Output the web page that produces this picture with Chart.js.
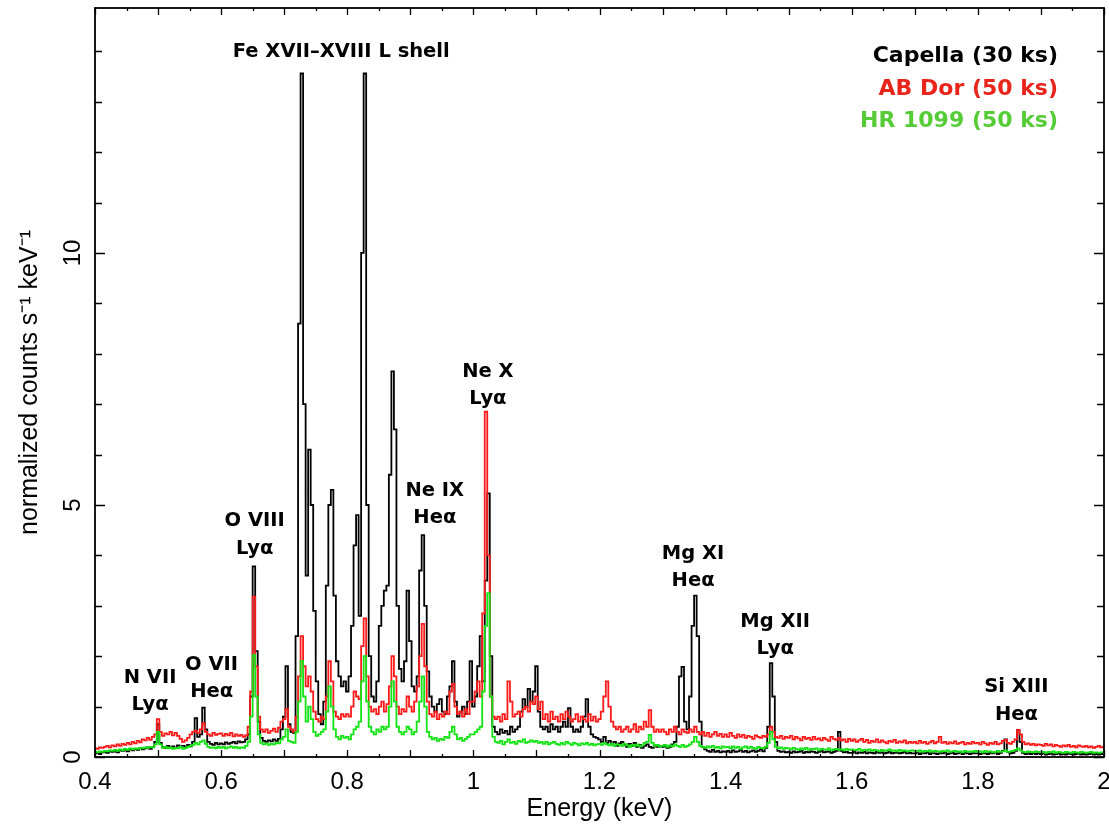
<!DOCTYPE html>
<html>
<head>
<meta charset="utf-8">
<title>X-ray spectra: Capella, AB Dor, HR 1099</title>
<script src="https://cdn.jsdelivr.net/npm/chart.js@4.4.1/dist/chart.umd.min.js"></script>
<style>
  html, body { margin: 0; padding: 0; background: #ffffff; }
  canvas { display: block; }
</style>
</head>
<body>
<canvas id="spectrum" width="1109" height="826"></canvas>
<script>
// Channel energies (keV), one row per 0.1 keV
const energyKeV = [
  0.400,0.404,0.408,0.412,0.416,0.420,0.424,0.428,0.432,0.436,0.440,0.444,0.448,0.452,0.456,0.460,0.464,0.468,0.472,0.476,0.480,0.484,0.488,0.492,0.496,
  0.500,0.504,0.508,0.512,0.516,0.520,0.524,0.528,0.532,0.536,0.540,0.544,0.548,0.552,0.556,0.560,0.564,0.568,0.572,0.576,0.580,0.584,0.588,0.592,0.596,
  0.600,0.604,0.608,0.612,0.616,0.620,0.624,0.628,0.632,0.636,0.640,0.644,0.648,0.652,0.656,0.660,0.664,0.668,0.672,0.676,0.680,0.684,0.688,0.692,0.696,
  0.700,0.704,0.708,0.712,0.716,0.720,0.724,0.728,0.732,0.736,0.740,0.744,0.748,0.752,0.756,0.760,0.764,0.768,0.772,0.776,0.780,0.784,0.788,0.792,0.796,
  0.800,0.804,0.808,0.812,0.816,0.820,0.824,0.828,0.832,0.836,0.840,0.844,0.848,0.852,0.856,0.860,0.864,0.868,0.872,0.876,0.880,0.884,0.888,0.892,0.896,
  0.900,0.904,0.908,0.912,0.916,0.920,0.924,0.928,0.932,0.936,0.940,0.944,0.948,0.952,0.956,0.960,0.964,0.968,0.972,0.976,0.980,0.984,0.988,0.992,0.996,
  1.000,1.004,1.008,1.012,1.016,1.020,1.024,1.028,1.032,1.036,1.040,1.044,1.048,1.052,1.056,1.060,1.064,1.068,1.072,1.076,1.080,1.084,1.088,1.092,1.096,
  1.100,1.104,1.108,1.112,1.116,1.120,1.124,1.128,1.132,1.136,1.140,1.144,1.148,1.152,1.156,1.160,1.164,1.168,1.172,1.176,1.180,1.184,1.188,1.192,1.196,
  1.200,1.204,1.208,1.212,1.216,1.220,1.224,1.228,1.232,1.236,1.240,1.244,1.248,1.252,1.256,1.260,1.264,1.268,1.272,1.276,1.280,1.284,1.288,1.292,1.296,
  1.300,1.304,1.308,1.312,1.316,1.320,1.324,1.328,1.332,1.336,1.340,1.344,1.348,1.352,1.356,1.360,1.364,1.368,1.372,1.376,1.380,1.384,1.388,1.392,1.396,
  1.400,1.404,1.408,1.412,1.416,1.420,1.424,1.428,1.432,1.436,1.440,1.444,1.448,1.452,1.456,1.460,1.464,1.468,1.472,1.476,1.480,1.484,1.488,1.492,1.496,
  1.500,1.504,1.508,1.512,1.516,1.520,1.524,1.528,1.532,1.536,1.540,1.544,1.548,1.552,1.556,1.560,1.564,1.568,1.572,1.576,1.580,1.584,1.588,1.592,1.596,
  1.600,1.604,1.608,1.612,1.616,1.620,1.624,1.628,1.632,1.636,1.640,1.644,1.648,1.652,1.656,1.660,1.664,1.668,1.672,1.676,1.680,1.684,1.688,1.692,1.696,
  1.700,1.704,1.708,1.712,1.716,1.720,1.724,1.728,1.732,1.736,1.740,1.744,1.748,1.752,1.756,1.760,1.764,1.768,1.772,1.776,1.780,1.784,1.788,1.792,1.796,
  1.800,1.804,1.808,1.812,1.816,1.820,1.824,1.828,1.832,1.836,1.840,1.844,1.848,1.852,1.856,1.860,1.864,1.868,1.872,1.876,1.880,1.884,1.888,1.892,1.896,
  1.900,1.904,1.908,1.912,1.916,1.920,1.924,1.928,1.932,1.936,1.940,1.944,1.948,1.952,1.956,1.960,1.964,1.968,1.972,1.976,1.980,1.984,1.988,1.992,1.996,
  2.000
];

// Capella (30 ks), normalized counts s^-1 keV^-1
const capella = [
  0.07,0.08,0.06,0.09,0.10,0.08,0.11,0.10,0.12,0.09,0.13,0.12,0.14,0.11,0.15,0.13,0.16,0.14,0.18,0.15,0.17,0.19,0.16,0.20,0.30,
  0.65,0.28,0.20,0.18,0.22,0.19,0.21,0.18,0.23,0.20,0.22,0.19,0.24,0.21,0.30,0.77,0.40,0.45,0.98,0.55,0.30,0.26,0.24,0.28,0.25,
  0.27,0.25,0.29,0.26,0.28,0.30,0.27,0.31,0.29,0.30,0.35,0.45,1.20,3.78,2.10,0.70,0.38,0.32,0.30,0.33,0.31,0.35,0.32,0.36,0.55,
  0.80,1.80,0.65,0.50,0.48,2.40,8.60,13.56,7.00,3.60,6.10,5.00,2.90,1.50,0.85,0.65,1.10,3.40,5.00,5.30,3.20,1.90,1.60,1.40,1.50,
  1.30,1.60,2.60,4.20,4.80,2.80,10.00,13.56,5.00,2.00,1.20,1.10,1.50,2.60,3.00,3.30,3.40,5.60,7.65,6.50,3.00,1.75,1.50,1.90,3.30,
  2.30,1.40,1.30,1.60,3.70,4.40,3.00,1.70,1.20,1.00,0.90,1.05,1.15,0.90,0.85,1.20,1.40,1.90,1.10,0.80,0.90,1.00,0.85,1.10,1.90,
  1.00,1.20,1.80,2.40,1.50,3.50,5.23,2.00,0.60,0.50,0.45,0.55,0.48,0.52,0.45,0.60,0.50,0.55,0.60,0.90,1.15,1.00,1.35,1.10,1.30,
  1.80,0.90,0.60,0.55,0.60,0.50,0.65,0.55,0.60,0.50,0.60,0.70,0.60,0.97,0.60,0.50,0.55,0.50,0.60,0.80,1.15,0.60,0.45,0.40,0.38,
  0.35,0.30,0.40,0.28,0.32,0.25,0.30,0.22,0.27,0.30,0.24,0.20,0.26,0.22,0.28,0.20,0.24,0.18,0.22,0.25,0.20,0.18,0.23,0.20,0.22,
  0.20,0.22,0.18,0.20,0.25,0.30,0.60,1.60,1.79,0.70,0.55,1.20,2.60,3.20,2.40,0.70,0.20,0.15,0.12,0.10,0.14,0.10,0.12,0.09,0.11,
  0.10,0.12,0.09,0.13,0.10,0.11,0.14,0.10,0.12,0.09,0.11,0.13,0.10,0.12,0.15,0.11,0.18,0.60,1.86,1.20,0.30,0.12,0.10,0.11,0.09,
  0.10,0.08,0.11,0.09,0.10,0.12,0.08,0.10,0.09,0.11,0.10,0.08,0.10,0.12,0.09,0.10,0.11,0.08,0.10,0.12,0.50,0.12,0.09,0.10,0.08,
  0.08,0.10,0.07,0.09,0.08,0.10,0.07,0.09,0.08,0.07,0.10,0.08,0.09,0.07,0.08,0.10,0.07,0.08,0.09,0.07,0.08,0.10,0.07,0.08,0.07,
  0.07,0.09,0.06,0.08,0.07,0.09,0.06,0.08,0.07,0.06,0.08,0.07,0.09,0.06,0.07,0.08,0.06,0.07,0.09,0.06,0.08,0.07,0.06,0.08,0.07,
  0.07,0.06,0.08,0.07,0.06,0.08,0.07,0.09,0.06,0.08,0.12,0.35,0.10,0.07,0.08,0.12,0.54,0.30,0.08,0.06,0.07,0.06,0.08,0.06,0.07,
  0.06,0.07,0.05,0.06,0.07,0.05,0.06,0.07,0.05,0.06,0.05,0.07,0.06,0.05,0.06,0.07,0.05,0.06,0.05,0.06,0.07,0.05,0.06,0.05,0.06,
  0.06
];

// AB Dor (50 ks)
const abDor = [
  0.17,0.16,0.19,0.18,0.20,0.22,0.19,0.23,0.21,0.25,0.22,0.26,0.24,0.28,0.25,0.30,0.27,0.32,0.29,0.35,0.33,0.38,0.34,0.40,0.45,
  0.75,0.50,0.42,0.47,0.45,0.50,0.43,0.48,0.42,0.36,0.30,0.33,0.38,0.45,0.50,0.52,0.48,0.55,0.67,0.50,0.45,0.42,0.48,0.44,0.46,
  0.47,0.42,0.46,0.43,0.48,0.41,0.45,0.42,0.44,0.40,0.43,0.60,1.30,3.18,1.80,0.80,0.55,0.50,0.55,0.48,0.52,0.56,0.50,0.58,0.70,
  0.75,0.95,0.60,0.55,0.50,0.80,1.60,2.40,1.80,1.40,1.60,1.30,0.90,0.75,0.70,0.80,0.75,1.20,1.90,1.50,0.90,0.80,0.75,0.85,0.80,
  0.85,0.80,1.00,1.30,1.20,1.15,2.20,2.75,1.60,1.00,0.90,0.95,0.85,1.00,1.10,0.90,1.05,1.40,2.00,1.60,1.00,0.85,0.95,0.90,1.20,
  1.00,0.90,1.10,1.40,2.00,2.64,1.80,1.10,0.85,0.80,0.90,0.75,0.85,0.80,0.90,0.85,1.30,1.45,1.00,0.85,0.90,0.80,0.95,0.85,1.10,
  1.10,1.30,1.50,1.20,2.85,6.85,4.00,1.20,0.80,0.75,0.80,0.70,0.85,0.75,1.50,1.10,0.80,0.85,0.90,0.80,0.95,1.00,0.90,1.10,1.05,
  1.20,0.95,1.10,0.75,0.85,0.70,0.90,0.75,0.80,0.70,0.85,0.75,0.90,0.80,0.70,0.75,0.85,0.70,0.80,0.75,0.70,0.85,0.72,0.80,0.70,
  0.75,0.90,1.20,1.50,1.00,0.70,0.60,0.55,0.60,0.50,0.55,0.60,0.50,0.55,0.65,0.50,0.60,0.55,0.70,0.60,0.93,0.60,0.50,0.55,0.50,
  0.55,0.50,0.45,0.55,0.50,0.60,0.50,0.45,0.55,0.50,0.48,0.55,0.50,0.60,0.50,0.45,0.50,0.42,0.48,0.40,0.45,0.50,0.42,0.46,0.40,
  0.45,0.40,0.48,0.42,0.38,0.45,0.40,0.44,0.38,0.42,0.40,0.36,0.43,0.40,0.38,0.42,0.40,0.45,0.60,0.50,0.40,0.38,0.42,0.36,0.40,
  0.38,0.42,0.35,0.40,0.37,0.33,0.40,0.36,0.38,0.34,0.40,0.35,0.37,0.33,0.38,0.35,0.32,0.40,0.36,0.34,0.38,0.33,0.35,0.30,0.36,
  0.32,0.35,0.30,0.33,0.36,0.30,0.34,0.28,0.32,0.30,0.35,0.29,0.33,0.30,0.27,0.32,0.30,0.34,0.28,0.31,0.29,0.33,0.27,0.30,0.28,
  0.30,0.27,0.32,0.28,0.30,0.26,0.29,0.32,0.27,0.30,0.40,0.28,0.30,0.26,0.29,0.27,0.31,0.26,0.28,0.30,0.25,0.28,0.26,0.30,0.27,
  0.28,0.25,0.30,0.27,0.24,0.28,0.26,0.30,0.25,0.27,0.32,0.34,0.28,0.26,0.30,0.35,0.54,0.45,0.30,0.25,0.27,0.24,0.26,0.23,0.25,
  0.24,0.22,0.26,0.23,0.25,0.21,0.24,0.22,0.20,0.23,0.21,0.24,0.20,0.22,0.19,0.23,0.21,0.20,0.22,0.19,0.21,0.18,0.20,0.22,0.19,
  0.20
];

// HR 1099 (50 ks)
const hr1099 = [
  0.10,0.09,0.11,0.10,0.12,0.11,0.13,0.12,0.14,0.12,0.15,0.13,0.16,0.14,0.17,0.15,0.17,0.16,0.18,0.17,0.19,0.18,0.20,0.19,0.25,
  0.50,0.25,0.18,0.20,0.17,0.19,0.16,0.18,0.17,0.20,0.16,0.18,0.20,0.22,0.24,0.28,0.25,0.30,0.33,0.26,0.20,0.18,0.19,0.17,0.20,
  0.18,0.20,0.17,0.19,0.21,0.18,0.20,0.17,0.19,0.18,0.22,0.30,0.80,2.02,1.20,0.45,0.28,0.25,0.27,0.24,0.26,0.25,0.28,0.27,0.35,
  0.40,0.55,0.32,0.30,0.28,0.50,1.10,1.90,1.20,0.70,1.00,0.75,0.50,0.42,0.45,0.50,0.55,0.90,1.40,1.00,0.55,0.40,0.35,0.42,0.38,
  0.40,0.35,0.45,0.55,0.60,0.70,1.50,2.00,1.10,0.60,0.50,0.45,0.55,0.50,0.60,0.55,0.60,1.00,1.50,1.10,0.60,0.50,0.45,0.50,0.60,
  0.55,0.45,0.50,0.70,1.10,1.60,1.00,0.50,0.40,0.35,0.38,0.32,0.36,0.34,0.40,0.38,0.50,0.60,0.45,0.35,0.38,0.32,0.36,0.40,0.45,
  0.45,0.50,0.55,0.60,1.30,2.60,3.25,1.20,0.40,0.30,0.28,0.32,0.25,0.30,0.35,0.28,0.30,0.26,0.32,0.30,0.35,0.28,0.30,0.33,0.30,
  0.32,0.28,0.30,0.26,0.30,0.25,0.28,0.30,0.26,0.24,0.28,0.25,0.30,0.27,0.24,0.28,0.26,0.23,0.27,0.25,0.28,0.24,0.26,0.23,0.25,
  0.26,0.24,0.28,0.25,0.23,0.26,0.22,0.25,0.24,0.22,0.26,0.23,0.20,0.24,0.22,0.25,0.21,0.23,0.28,0.30,0.44,0.28,0.22,0.24,0.21,
  0.22,0.24,0.20,0.23,0.21,0.25,0.22,0.20,0.24,0.20,0.22,0.25,0.30,0.40,0.30,0.22,0.20,0.18,0.21,0.19,0.22,0.18,0.20,0.17,0.21,
  0.19,0.20,0.17,0.21,0.18,0.20,0.16,0.19,0.21,0.17,0.20,0.18,0.16,0.20,0.18,0.17,0.20,0.28,0.50,0.35,0.20,0.17,0.19,0.16,0.18,
  0.17,0.15,0.18,0.16,0.14,0.17,0.15,0.18,0.14,0.16,0.15,0.17,0.13,0.16,0.15,0.14,0.17,0.13,0.15,0.16,0.14,0.15,0.13,0.16,0.14,
  0.15,0.13,0.14,0.16,0.12,0.14,0.13,0.15,0.12,0.14,0.13,0.11,0.14,0.12,0.13,0.15,0.12,0.13,0.11,0.14,0.12,0.13,0.11,0.12,0.13,
  0.12,0.11,0.13,0.10,0.12,0.11,0.13,0.10,0.12,0.11,0.10,0.12,0.11,0.13,0.10,0.11,0.12,0.10,0.11,0.09,0.12,0.10,0.11,0.10,0.12,
  0.10,0.11,0.09,0.12,0.10,0.11,0.09,0.10,0.12,0.10,0.11,0.13,0.10,0.11,0.12,0.14,0.17,0.13,0.10,0.09,0.11,0.10,0.09,0.11,0.10,
  0.09,0.10,0.08,0.10,0.09,0.11,0.08,0.10,0.09,0.08,0.10,0.09,0.08,0.10,0.09,0.08,0.10,0.09,0.08,0.09,0.10,0.08,0.09,0.08,0.09,
  0.09
];

// Line identifications: centre energy (keV), baseline level of the first line (y units)
const lineLabels = [
  { text: ['Fe XVII\u2013XVIII L shell'], keV: 0.7905, level: 13.89 },
  { text: ['Ne X', 'Ly\u03b1'],    keV: 1.023,  level: 7.54 },
  { text: ['Ne IX', 'He\u03b1'],   keV: 0.9389, level: 5.18 },
  { text: ['O VIII', 'Ly\u03b1'],  keV: 0.6532, level: 4.58 },
  { text: ['N VII', 'Ly\u03b1'],   keV: 0.4873, level: 1.47 },
  { text: ['O VII', 'He\u03b1'],   keV: 0.5849, level: 1.73 },
  { text: ['Mg XI', 'He\u03b1'],   keV: 1.3484, level: 3.93 },
  { text: ['Mg XII', 'Ly\u03b1'],  keV: 1.4786, level: 2.58 },
  { text: ['Si XIII', 'He\u03b1'], keV: 1.8611, level: 1.28 }
];

const seriesNames = ['Capella (30 ks)', 'AB Dor (50 ks)', 'HR 1099 (50 ks)'];
const lineColors = ['#000000', '#ff1a1a', '#12e312'];
const legendColors = ['#000000', '#e8241b', '#55cc36'];

const AXIS_FONT = '"Liberation Sans", Arial, Helvetica, sans-serif';
const LABEL_FONT = '"DejaVu Sans", Verdana, sans-serif';

function toPoints(values) {
  return energyKeV.map((e, i) => ({ x: e, y: values[i] }));
}

// Frame, inward tick marks, tick labels, line identifications and the coloured key
const spectrumDecor = {
  id: 'spectrumDecor',
  afterDatasetsDraw(chart) {
    const { ctx, chartArea: a, scales } = chart;
    const xs = scales.x, ys = scales.y;
    ctx.save();

    // tick marks on all four sides
    ctx.strokeStyle = '#000';
    ctx.lineWidth = 1.3;
    ctx.beginPath();
    for (let k = 0; k <= 32; k++) {
      const v = xs.min + k * 0.05;
      const px = Math.round(xs.getPixelForValue(v)) + 0.5;
      const len = (k % 2 === 0) ? 7 : 3;
      ctx.moveTo(px, a.bottom); ctx.lineTo(px, a.bottom - len);
      ctx.moveTo(px, a.top); ctx.lineTo(px, a.top + len);
    }
    for (let v = 0; v <= Math.floor(ys.max); v++) {
      const py = Math.round(ys.getPixelForValue(v)) + 0.5;
      const len = (v % 5 === 0) ? 10 : 7;
      ctx.moveTo(a.left, py); ctx.lineTo(a.left + len, py);
      ctx.moveTo(a.right, py); ctx.lineTo(a.right - len, py);
    }
    ctx.stroke();

    // plot frame
    ctx.lineWidth = 1.8;
    ctx.strokeRect(a.left, a.top, a.right - a.left, a.bottom - a.top);

    // tick labels
    ctx.fillStyle = '#000';
    ctx.font = '24px ' + AXIS_FONT;
    ctx.textAlign = 'center';
    ctx.textBaseline = 'alphabetic';
    xs.ticks.forEach(t => {
      const px = xs.getPixelForValue(t.value);
      ctx.fillText(String(Number(t.value.toFixed(2))), px, a.bottom + 32);
    });
    ys.ticks.forEach(t => {
      if (Math.abs(t.value % 5) > 1e-6) return;
      const py = ys.getPixelForValue(t.value);
      ctx.save();
      ctx.translate(a.left - 15, py);
      ctx.rotate(-Math.PI / 2);
      ctx.fillText(String(t.value), 0, 0);
      ctx.restore();
    });

    // line identifications
    ctx.font = 'bold 19.5px ' + LABEL_FONT;
    ctx.fillStyle = '#000';
    lineLabels.forEach(lab => {
      const px = xs.getPixelForValue(lab.keV);
      const py = ys.getPixelForValue(lab.level);
      lab.text.forEach((s, i) => ctx.fillText(s, px, py + i * 27.5));
    });

    // key: series names in their own colours
    ctx.font = 'bold 22px ' + LABEL_FONT;
    ctx.textAlign = 'right';
    chart.data.datasets.forEach((ds, i) => {
      ctx.fillStyle = legendColors[i];
      ctx.fillText(ds.label, a.right - 46, a.top + 54 + i * 32.5);
    });

    ctx.restore();
  }
};

const datasets = [capella, abDor, hr1099].map((vals, i) => ({
  label: seriesNames[i],
  data: toPoints(vals),
  borderColor: lineColors[i],
  backgroundColor: lineColors[i],
  borderWidth: 1.8,
  pointRadius: 0,
  stepped: 'middle',
  fill: false,
  order: 3 - i
}));

new Chart(document.getElementById('spectrum'), {
  type: 'line',
  data: { datasets },
  plugins: [spectrumDecor],
  options: {
    responsive: false,
    animation: false,
    events: [],
    layout: { padding: { top: 8, right: 5, left: 0, bottom: 0 } },
    plugins: { legend: { display: false }, tooltip: { enabled: false } },
    scales: {
      x: {
        type: 'linear',
        min: 0.4,
        max: 2.0,
        grid: { display: false },
        border: { display: false },
        ticks: { display: false, stepSize: 0.2, includeBounds: false },
        title: {
          display: true,
          text: 'Energy (keV)',
          color: '#000',
          font: { family: AXIS_FONT, size: 25 },
          padding: { top: 0, bottom: 2 }
        },
        afterFit(scale) { scale.height = 69; }
      },
      y: {
        type: 'linear',
        min: 0,
        max: 14.86,
        grid: { display: false },
        border: { display: false },
        ticks: { display: false, stepSize: 5, includeBounds: false },
        title: {
          display: true,
          text: 'normalized counts s\u207b\u00b9 keV\u207b\u00b9',
          color: '#000',
          font: { family: AXIS_FONT, size: 25 },
          padding: { top: 15, bottom: 0 }
        },
        afterFit(scale) { scale.width = 95; }
      }
    }
  }
});
</script>
</body>
</html>
